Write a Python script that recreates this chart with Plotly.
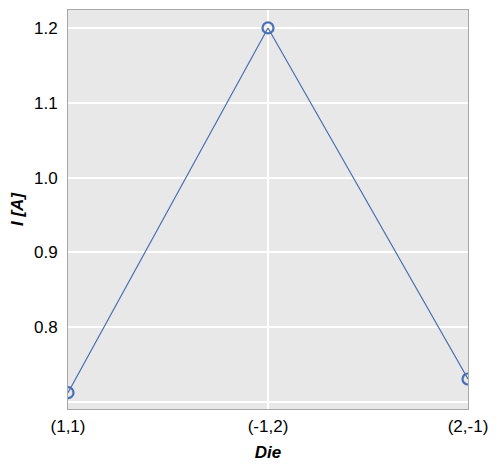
import plotly.graph_objects as go

# data
dies = ['(1,1)', '(-1,2)', '(2,-1)']
current = [0.7124, 1.2, 0.7307]

y_ticks = [0.7, 0.8, 0.9, 1.0, 1.1, 1.2]
y_labels = ['', '0.8', '0.9', '1.0', '1.1', '1.2']

blue = '#4a6fb3'

fig = go.Figure()
fig.add_trace(go.Scatter(
    x=[0, 1, 2], y=current,
    mode='lines+markers',
    line=dict(color=blue, width=1.2),
    marker=dict(symbol='circle-open', size=11, color=blue, line=dict(width=2.2)),
    cliponaxis=True,
    showlegend=False,
))

tick_font = dict(family='Liberation Sans, Arial', size=17, color='black')
title_font = dict(family='Liberation Sans, Arial', size=17, color='black')

# page body has an 8px margin, so the figure is 8px smaller than the window
fig.update_layout(
    width=491, height=463,
    margin=dict(l=60, r=31, t=2, b=62),
    paper_bgcolor='white',
    plot_bgcolor='#e8e8e8',
)
fig.update_xaxes(
    range=[0, 2], automargin=False,
    tickvals=[0, 1, 2], ticktext=dies, tickfont=tick_font,
    showgrid=True, gridcolor='white', gridwidth=1.5,
    zeroline=False,
    showline=True, linecolor='#a8a8a8', linewidth=1, mirror=True,
    ticks='', ticklabelstandoff=2,
    title=dict(text='<b><i>Die</i></b>', standoff=10, font=title_font),
)
fig.update_yaxes(
    range=[0.6906, 1.224], automargin=False,
    tickvals=y_ticks, ticktext=y_labels, tickfont=tick_font,
    showgrid=True, gridcolor='white', gridwidth=1.5,
    zeroline=False,
    showline=True, linecolor='#a8a8a8', linewidth=1, mirror=True,
    ticks='', ticklabelstandoff=6,
    title=dict(text='<b><i>I [A]</i></b>', standoff=7, font=title_font),
)

fig.write_html('out.html')
